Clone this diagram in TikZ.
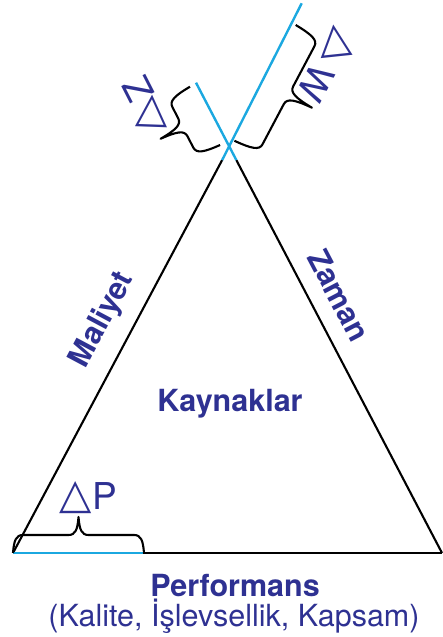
\documentclass[tikz,border=0pt]{standalone}
\usepackage{fontspec}
\setmainfont{TeX Gyre Heros}
\newfontfamily\symfont{DejaVu Sans}
\usetikzlibrary{calc}
\definecolor{txtblue}{HTML}{2E3192}
\definecolor{lineblue}{HTML}{1BA8E0}
\tikzset{
  blk/.style={draw=black, line width=2.1pt},
  blu/.style={draw=lineblue, line width=2.4pt},
  bracestyle/.style={draw=black, line width=2.1pt, line join=round},
  lbl/.style={text=txtblue, inner sep=0pt, font=\fontsize{30.5}{36}\selectfont},
  lblb/.style={text=txtblue, inner sep=0pt, font=\bfseries\fontsize{30.5}{36}\selectfont},
  lblbig/.style={text=txtblue, inner sep=0pt, font=\fontsize{37}{40}\selectfont},
  dlt/.style={text=txtblue, inner sep=0pt, font=\symfont\fontsize{42}{44}\selectfont},
}
\newcommand\curlybrace[5]{%
  \begin{scope}[shift={(#1,#2)}, rotate=#3]
    \draw[bracestyle] (0,0) .. controls (1,{0.35*#5}) and (3,{0.5*#5}) .. (10,{0.5*#5})
      -- ({#4/2-10},{0.5*#5}) .. controls ({#4/2-3},{0.5*#5}) and ({#4/2-1},{0.65*#5}) .. ({#4/2},#5)
      .. controls ({#4/2+1},{0.65*#5}) and ({#4/2+3},{0.5*#5}) .. ({#4/2+10},{0.5*#5})
      -- ({#4-10},{0.5*#5}) .. controls ({#4-3},{0.5*#5}) and ({#4-1},{0.35*#5}) .. (#4,0);
  \end{scope}}
\begin{document}
\begin{tikzpicture}[x=1pt,y=1pt]
\useasboundingbox (0,0) rectangle (443,637);
% triangle corners
\coordinate (A) at (13,84);
\coordinate (B) at (442,84);
\coordinate (Ab) at (222.2,477);
\coordinate (Bb) at (236.3,477);
\coordinate (Ltop) at (301.7,633.7);
\coordinate (Rtop) at (196,554.3);
\coordinate (Pend) at (143,84);
% sides
\draw[blk] (A) -- (Ab);
\draw[blk] (B) -- (Bb);
\draw[blk] (A) -- (B);
\draw[blu] (Ab) -- (Ltop);
\draw[blu] (Bb) -- (Rtop);
\draw[blu] (A) -- (Pend);
% braces
\curlybrace{13}{84}{0}{131}{36}
\curlybrace{295.7}{612}{242.1}{131}{53}
\curlybrace{220.1}{492}{117.3}{65.6}{50}
% labels
\node[lblb, anchor=base] (perf) at (235,40.3) {Performans};
\node[lbl, anchor=base] (sub) at (234,10.3) {(Kalite, İşlevsellik, Kapsam)};
\node[lblb, anchor=base] (kay) at (230,225.3) {Kaynaklar};
\node[lblb, rotate=62] (mal) at (102.5,317) {Maliyet};
\node[lblb, rotate=-62.4] (zam) at (339,341.5) {Zaman};
% deltas
\node[dlt] (dP) at (76,139) {△};
\node[lblbig, anchor=base west] (P) at (92,127) {P};
\node[dlt, rotate=6] (dW) at (335,595.8) {△};
\node[lblbig, rotate=242] (W) at (316.5,553.5) {W};
\node[dlt, rotate=-2] (dZ) at (152.5,526) {△};
\node[lblbig, rotate=117] (Z) at (138.3,547) {Z};
\end{tikzpicture}
\end{document}
